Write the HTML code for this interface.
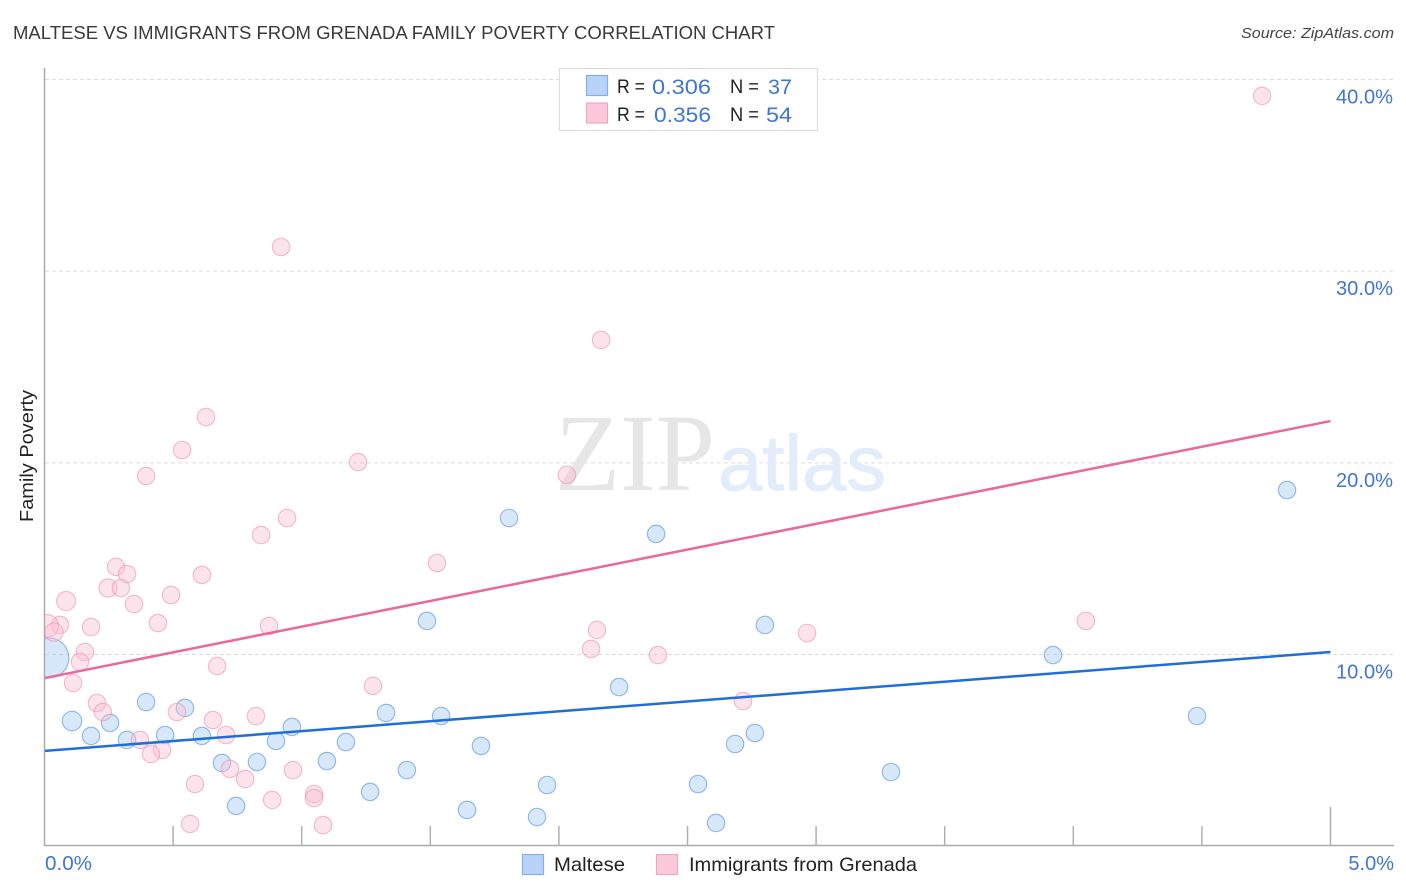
<!DOCTYPE html>
<html lang="en">
<head>
<meta charset="utf-8">
<title>Maltese vs Immigrants from Grenada Family Poverty Correlation Chart</title>
<style>
html,body{margin:0;padding:0;background:#fff;}
svg{display:block;font-family:"Liberation Sans",sans-serif;}
</style>
</head>
<body>
<svg id="chart" xmlns="http://www.w3.org/2000/svg" width="1406" height="892" viewBox="0 0 1406 892">
  <defs>
    <clipPath id="plot-clip"><rect x="45" y="60" width="1300" height="786"/></clipPath>
  </defs>
  <rect x="0" y="0" width="1406" height="892" fill="#ffffff"/>
  <text x="13" y="39" font-size="18.5" fill="#3a3a3a" textLength="762" lengthAdjust="spacingAndGlyphs">MALTESE VS IMMIGRANTS FROM GRENADA FAMILY POVERTY CORRELATION CHART</text>
  <text x="1241" y="38" font-size="15" font-style="italic" fill="#444444" textLength="153" lengthAdjust="spacingAndGlyphs">Source: ZipAtlas.com</text>
  <text transform="translate(33,456) rotate(-90)" font-size="18.5" fill="#222222" text-anchor="middle" textLength="132" lengthAdjust="spacingAndGlyphs">Family Poverty</text>

  <g id="grid"></g>
  <g>
    <text x="555" y="490" font-family="'Liberation Serif',serif" font-size="110" fill="#e6e6e6" textLength="160" lengthAdjust="spacingAndGlyphs">ZIP</text>
    <text x="718" y="490" font-size="78" fill="#e2ecfa" stroke="#e2ecfa" stroke-width="1" textLength="168" lengthAdjust="spacingAndGlyphs">atlas</text>
  </g>
  <g id="axes"></g>
  <g id="points" clip-path="url(#plot-clip)"></g>
  <g id="lines" clip-path="url(#plot-clip)"></g>
  <g id="labels"></g>

  <g>
    <rect x="559.5" y="68.5" width="258" height="62" fill="#ffffff" stroke="#dddddd" stroke-width="1.2"/>
    <rect x="586.5" y="75.5" width="21" height="20" fill="#b8d3f7" stroke="#86aee6" stroke-width="1.2"/>
    <rect x="586.5" y="103" width="21" height="20" fill="#fcc8da" stroke="#f0a8c2" stroke-width="1.2"/>
    <g font-size="19.5" fill="#222222">
      <text x="617" y="93" textLength="28" lengthAdjust="spacingAndGlyphs">R =</text>
      <text x="730" y="93" textLength="29" lengthAdjust="spacingAndGlyphs">N =</text>
      <text x="617" y="121" textLength="28" lengthAdjust="spacingAndGlyphs">R =</text>
      <text x="730" y="121" textLength="29" lengthAdjust="spacingAndGlyphs">N =</text>
    </g>
    <g font-size="21" fill="#3f76d4">
      <text x="652" y="94" textLength="59" lengthAdjust="spacingAndGlyphs">0.306</text>
      <text x="768" y="94" textLength="24" lengthAdjust="spacingAndGlyphs">37</text>
      <text x="654" y="122" textLength="57" lengthAdjust="spacingAndGlyphs">0.356</text>
      <text x="766" y="122" textLength="26" lengthAdjust="spacingAndGlyphs">54</text>
    </g>
  </g>

  <g>
    <rect x="522.5" y="854.5" width="21" height="20" fill="#b8d3f7" stroke="#86aee6" stroke-width="1.2"/>
    <text x="554" y="871" font-size="19.5" fill="#222222" textLength="71" lengthAdjust="spacingAndGlyphs">Maltese</text>
    <rect x="656.5" y="854.5" width="21" height="20" fill="#fcc8da" stroke="#f0a8c2" stroke-width="1.2"/>
    <text x="689" y="871" font-size="19.5" fill="#222222" textLength="228" lengthAdjust="spacingAndGlyphs">Immigrants from Grenada</text>
  </g>
</svg>
<script>
const xTickValues = [0, 0.5, 1, 1.5, 2, 2.5, 3, 3.5, 4, 4.5, 5];
const xTickLabels = ['0.0%', '5.0%'];
const yTickValues = [10, 20, 30, 40];
const yTickLabels = ['10.0%', '20.0%', '30.0%', '40.0%'];

const malteseX = [0.107,0.181,0.255,0.321,0.395,0.469,0.546,0.612,0.690,0.745,0.826,0.900,0.962,1.098,1.172,1.266,1.328,1.409,1.487,1.542,1.643,1.697,1.806,1.915,1.954,2.234,2.378,2.541,2.611,2.685,2.762,2.801,3.291,3.921,4.481,4.831,0.017];
const malteseY = [6.53,5.75,6.43,5.54,7.52,5.80,7.21,5.75,4.34,2.10,4.39,5.49,6.22,4.44,5.43,2.83,6.95,3.97,11.75,6.79,1.89,5.23,17.12,1.52,3.19,8.30,16.29,3.24,1.21,5.33,5.90,11.54,3.87,9.97,6.79,18.58,9.82];
const malteseWeight = [1.25,1,1,1,1,1,1,1,1,1,1,1,1,1,1,1,1,1,1,1,1,1,1,1,1,1,1,1,1,1,1,1,1,1,1,1,5.3];

const grenadaX = [4.734,0.920,2.164,0.628,0.535,1.219,2.031,0.395,0.943,0.842,1.526,0.278,0.321,0.612,0.247,0.297,0.084,0.492,0.348,0.441,0.181,0.873,0.060,0.010,0.037,0.157,0.138,0.671,0.111,1.277,0.204,0.227,0.515,0.822,0.655,0.706,0.371,0.457,0.414,0.721,0.780,0.585,0.966,1.048,1.048,0.885,0.566,1.083,2.148,2.125,2.385,2.716,2.965,4.049];
const grenadaY = [39.14,31.26,26.41,22.39,20.67,20.04,19.37,19.31,17.12,16.23,14.77,14.57,14.20,14.15,13.47,13.47,12.79,13.10,12.63,11.64,11.43,11.49,11.54,11.49,11.17,10.13,9.61,9.40,8.51,8.36,7.47,7.00,7.00,6.79,6.58,5.80,5.54,5.02,4.81,4.03,3.50,3.24,3.97,2.72,2.51,2.41,1.16,1.10,11.28,10.29,9.97,7.57,11.12,11.75];
const grenadaWeight = [1,1,1,1,1,1,1,1,1,1,1,1,1,1,1.1,1,1.2,1,1,1,1,1,1,1.7,1.1,1,1,1,1,1,1,1,1,1,1,1,1,1,1,1,1,1,1,1,1,1,1,1,1,1,1,1,1,1];

const trendX = [0, 5];
const malteseTrend = [4.97, 10.13];
const grenadaTrend = [8.77, 22.18];

const NS = 'http://www.w3.org/2000/svg';
function xScale(v) { return 44.5 + v * 257.2; }
function yScale(v) { return 846.17 - v * 19.167; }
function radius(w) { return 8.7 * Math.sqrt(w); }
function make(tag, attrs, parent) {
  const el = document.createElementNS(NS, tag);
  for (const k in attrs) el.setAttribute(k, attrs[k]);
  parent.appendChild(el);
  return el;
}

const grid = document.getElementById('grid');
yTickValues.forEach(function (v) {
  const el = make('line', {x1: 45, x2: 1394, y1: yScale(v), y2: yScale(v), stroke: '#dcdcdc', 'stroke-width': 1, 'stroke-dasharray': '4 3'}, grid);
  
  
});

const axes = document.getElementById('axes');
const yAxis = make('line', {x1: 44.5, x2: 44.5, y1: 68, y2: 846, stroke: '#aaaaaa', 'stroke-width': 1.5}, axes);


const xAxis = make('line', {x1: 44, x2: 1394, y1: 845.5, y2: 845.5, stroke: '#aaaaaa', 'stroke-width': 1.5}, axes);


xTickValues.slice(1).forEach(function (v, i, arr) {
  const top = i === arr.length - 1 ? 807 : 826;
  const el = make('line', {x1: xScale(v), x2: xScale(v), y1: top, y2: 846, stroke: '#b0b0b0', 'stroke-width': 1.5}, axes);
  
  
});

const points = document.getElementById('points');
function drawSeries(xs, ys, ws, fill, stroke, name) {
  xs.forEach(function (x, i) {
    const el = make('circle', {cx: xScale(x), cy: yScale(ys[i]), r: radius(ws[i]), fill: fill, stroke: stroke, 'stroke-width': 1.2}, points);
    
    
  });
}
drawSeries(malteseX, malteseY, malteseWeight, 'rgba(160,200,245,0.42)', 'rgba(110,160,225,0.7)', 'point-maltese');
drawSeries(grenadaX, grenadaY, grenadaWeight, 'rgba(250,190,210,0.42)', 'rgba(235,150,180,0.62)', 'point-grenada');

const lines = document.getElementById('lines');
const grenadaLine = make('line', {x1: xScale(trendX[0]), y1: yScale(grenadaTrend[0]), x2: xScale(trendX[1]), y2: yScale(grenadaTrend[1]), stroke: '#e96a9a', 'stroke-width': 2.5}, lines);


const malteseLine = make('line', {x1: xScale(trendX[0]), y1: yScale(malteseTrend[0]), x2: xScale(trendX[1]), y2: yScale(malteseTrend[1]), stroke: '#1f6fd8', 'stroke-width': 2.5}, lines);



const labels = document.getElementById('labels');
yTickValues.forEach(function (v, i) {
  const el = make('text', {x: 1336, y: yScale(v) + 24, 'font-size': 20, fill: '#3f76d4', textLength: 57, lengthAdjust: 'spacingAndGlyphs'}, labels);
  el.textContent = yTickLabels[i];
  
  
});
const xLeft = make('text', {x: xScale(xTickValues[0]) + 0.5, y: 870, 'font-size': 20, fill: '#3f76d4', textLength: 47, lengthAdjust: 'spacingAndGlyphs'}, labels);
xLeft.textContent = xTickLabels[0];


const xRight = make('text', {x: 1394, y: 870, 'font-size': 20, fill: '#3f76d4', 'text-anchor': 'end'}, labels);
xRight.textContent = xTickLabels[1];


</script>
</body>
</html>
